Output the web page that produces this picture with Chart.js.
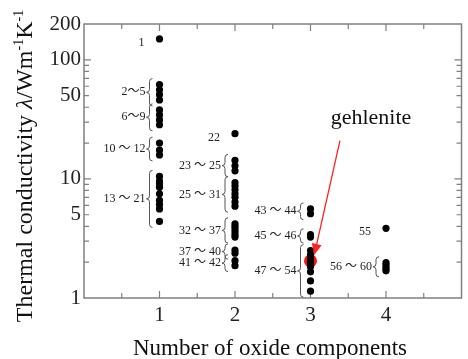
<!DOCTYPE html>
<html>
<head>
<meta charset="utf-8">
<script src="https://cdn.jsdelivr.net/npm/chart.js@4"></script>
<style>
  html, body { margin: 0; padding: 0; background: #fff; }
</style>
</head>
<body>
<canvas id="chart" width="468" height="359"></canvas>
<script>
"use strict";

// 성분 수별 번호 라벨과 열전도율 값 (W/mK)
const oneLabels = ["1", "2～5", "6～9", "10 ～ 12", "13 ～ 21"];
const oneValues = [
  [150],
  [62, 56, 51, 46],
  [38, 34.5, 31.3, 28.5],
  [20, 17.5, 15.9],
  [10.5, 9.6, 9.1, 8.5, 7.5, 6.6, 6.1, 5.6, 4.4],
];
const twoLabels = ["22", "23 ～ 25", "25 ～ 31", "32 ～ 37", "37 ～ 40", "41 ～ 42"];
const twoValues = [
  [24],
  [14.3, 12.9, 11.7],
  [9.3, 8.7, 8.1, 7.5, 7.0, 6.4, 5.9],
  [4.2, 4.0, 3.8, 3.6, 3.4, 3.25],
  [2.53, 2.38],
  [2.06, 1.87],
];
const threeLabels = ["43 ～ 44", "45 ～ 46", "47 ～ 54"];
const threeValues = [
  [5.6, 5.1],
  [3.4, 3.25],
  [2.5, 2.3, 2.1, 1.95, 1.83, 1.66, 1.39, 1.14],
];
const fourLabels = ["55", "56 ～ 60"];
const fourValues = [[3.85], [1.98, 1.9, 1.82, 1.75, 1.69]];

const gehleniteName = "gehlenite";
const gehleniteValue = 2.05;

const xTicks = [1, 2, 3, 4];
const yTicks = [1, 5, 10, 50, 100, 200];

const xTitle = "Number of oxide components";

const SERIF = "'Liberation Serif', 'DejaVu Serif', serif";
const SERIF_CJK = "'Liberation Serif', 'Noto Sans CJK JP', serif";
const AXIS_COLOR = "#808080";

const COLUMNS = [
  { x: 1, labels: oneLabels, values: oneValues },
  { x: 2, labels: twoLabels, values: twoValues },
  { x: 3, labels: threeLabels, values: threeValues },
  { x: 4, labels: fourLabels, values: fourValues },
];

function columnPoints(col) {
  const pts = [];
  col.values.forEach((grp) => grp.forEach((v) => pts.push({ x: col.x, y: v })));
  return pts;
}

// 축 테두리와 안쪽 눈금
const framePlugin = {
  id: "frame",
  beforeDatasetsDraw(chart) {
    const { ctx, chartArea: a, scales } = chart;
    const xs = scales.x, ys = scales.y;
    ctx.save();
    ctx.strokeStyle = AXIS_COLOR;
    ctx.lineWidth = 1.5;
    ctx.strokeRect(a.left, a.top, a.right - a.left, a.bottom - a.top);
    ctx.lineWidth = 1.2;
    ctx.beginPath();
    for (let v = 0.5; v < 5; v += 0.5) {
      const px = xs.getPixelForValue(v);
      const len = Number.isInteger(v) ? 7 : 5;
      ctx.moveTo(px, a.bottom); ctx.lineTo(px, a.bottom - len);
      ctx.moveTo(px, a.top); ctx.lineTo(px, a.top + len);
    }
    for (let d = 1; d <= 100; d *= 10) {
      for (let i = 1; i <= 9; i++) {
        const v = i * d;
        if (v <= 1 || v >= 200) continue;
        const py = ys.getPixelForValue(v);
        const len = i === 1 ? 7 : 5;
        ctx.moveTo(a.left, py); ctx.lineTo(a.left + len, py);
        ctx.moveTo(a.right, py); ctx.lineTo(a.right - len, py);
      }
    }
    ctx.stroke();
    ctx.restore();
  },
};

// 번호 라벨, 중괄호, gehlenite 화살표, 축 제목
const notePlugin = {
  id: "notes",
  afterDatasetsDraw(chart) {
    const { ctx, scales } = chart;
    const xs = scales.x, ys = scales.y;
    ctx.save();
    ctx.fillStyle = "#222";
    ctx.strokeStyle = "#555";
    ctx.lineWidth = 1;
    ctx.font = `12px ${SERIF_CJK}`;
    ctx.textAlign = "right";
    ctx.textBaseline = "middle";

    COLUMNS.forEach((col) => {
      const cx = xs.getPixelForValue(col.x);
      col.values.forEach((grp, i) => {
        const top = ys.getPixelForValue(Math.max(...grp));
        const bot = ys.getPixelForValue(Math.min(...grp));
        if (grp.length === 1) {
          ctx.fillText(col.labels[i], cx - 15, top + 4);
          return;
        }
        const y1 = top - 6, y2 = bot + 6, ym = (y1 + y2) / 2;
        const bx = cx - 10, r = 3;
        ctx.beginPath();
        ctx.moveTo(bx + r, y1);
        ctx.quadraticCurveTo(bx, y1, bx, y1 + r);
        ctx.lineTo(bx, ym - r);
        ctx.quadraticCurveTo(bx, ym, bx - r, ym);
        ctx.quadraticCurveTo(bx, ym, bx, ym + r);
        ctx.lineTo(bx, y2 - r);
        ctx.quadraticCurveTo(bx, y2, bx + r, y2);
        ctx.stroke();
        ctx.fillText(col.labels[i], bx - r - 1, ym);
      });
    });

    // gehlenite 화살표
    const sx = xs.getPixelForValue(3.39), sy = ys.getPixelForValue(21);
    const tx = xs.getPixelForValue(3.05), ty = ys.getPixelForValue(2.3);
    const ang = Math.atan2(ty - sy, tx - sx);
    ctx.strokeStyle = "#ff2020";
    ctx.fillStyle = "#ff2020";
    ctx.lineWidth = 1.3;
    ctx.beginPath();
    ctx.moveTo(sx, sy);
    ctx.lineTo(tx - 9 * Math.cos(ang), ty - 9 * Math.sin(ang));
    ctx.stroke();
    ctx.beginPath();
    ctx.moveTo(tx, ty);
    ctx.lineTo(tx - 11 * Math.cos(ang) + 5 * Math.sin(ang), ty - 11 * Math.sin(ang) - 5 * Math.cos(ang));
    ctx.lineTo(tx - 11 * Math.cos(ang) - 5 * Math.sin(ang), ty - 11 * Math.sin(ang) + 5 * Math.cos(ang));
    ctx.closePath();
    ctx.fill();

    ctx.fillStyle = "#111";
    ctx.font = `22px ${SERIF}`;
    ctx.textAlign = "center";
    ctx.fillText(gehleniteName, sx + 31, sy - 22);

    // x축 제목
    ctx.font = `23px ${SERIF}`;
    ctx.textBaseline = "alphabetic";
    ctx.fillText(xTitle, 270, 355);

    // y축 제목 (위첨자 포함)
    const parts = [
      { t: "Thermal conductivity ", f: `24px ${SERIF}`, dy: 0 },
      { t: "λ", f: `italic 24px ${SERIF}`, dy: 0 },
      { t: "/Wm", f: `24px ${SERIF}`, dy: 0 },
      { t: "-1", f: `14px ${SERIF}`, dy: -9 },
      { t: "K", f: `24px ${SERIF}`, dy: 0 },
      { t: "-1", f: `14px ${SERIF}`, dy: -9 },
    ];
    let total = 0;
    parts.forEach((p) => { ctx.font = p.f; p.w = ctx.measureText(p.t).width; total += p.w; });
    ctx.translate(32, 166);
    ctx.rotate(-Math.PI / 2);
    ctx.textAlign = "left";
    let x = -total / 2;
    parts.forEach((p) => {
      ctx.font = p.f;
      ctx.fillText(p.t, x, p.dy);
      x += p.w;
    });
    ctx.restore();
  },
};

const datasets = COLUMNS.map((col) => ({
  data: columnPoints(col),
  backgroundColor: "#000",
  borderWidth: 0,
  pointRadius: 3.6,
}));
datasets.push({
  data: [{ x: 3, y: gehleniteValue }],
  backgroundColor: "#ff1010",
  borderWidth: 0,
  pointRadius: 6.5,
});

new Chart(document.getElementById("chart").getContext("2d"), {
  type: "scatter",
  data: { datasets },
  options: {
    responsive: false,
    animation: false,
    events: [],
    layout: { padding: { top: 24, right: 2, left: 0, bottom: 0 } },
    plugins: { legend: { display: false }, tooltip: { enabled: false } },
    scales: {
      x: {
        type: "linear",
        min: 0,
        max: 5,
        grid: { display: false, drawTicks: false },
        border: { display: false },
        afterFit: (s) => { s.height = 61; },
        afterBuildTicks: (s) => { s.ticks = xTicks.map((v) => ({ value: v })); },
        ticks: {
          autoSkip: false,
          maxRotation: 0,
          padding: 5,
          color: "#222",
          font: { family: SERIF, size: 21 },
        },
      },
      y: {
        type: "logarithmic",
        min: 1,
        max: 200,
        grid: { display: false, drawTicks: false },
        border: { display: false },
        afterFit: (s) => { s.width = 84; },
        afterBuildTicks: (s) => { s.ticks = yTicks.map((v) => ({ value: v })); },
        ticks: {
          autoSkip: false,
          padding: 3,
          color: "#222",
          font: { family: SERIF, size: 21 },
          callback: (v) => String(v),
        },
      },
    },
  },
  plugins: [framePlugin, notePlugin],
});
</script>
</body>
</html>
